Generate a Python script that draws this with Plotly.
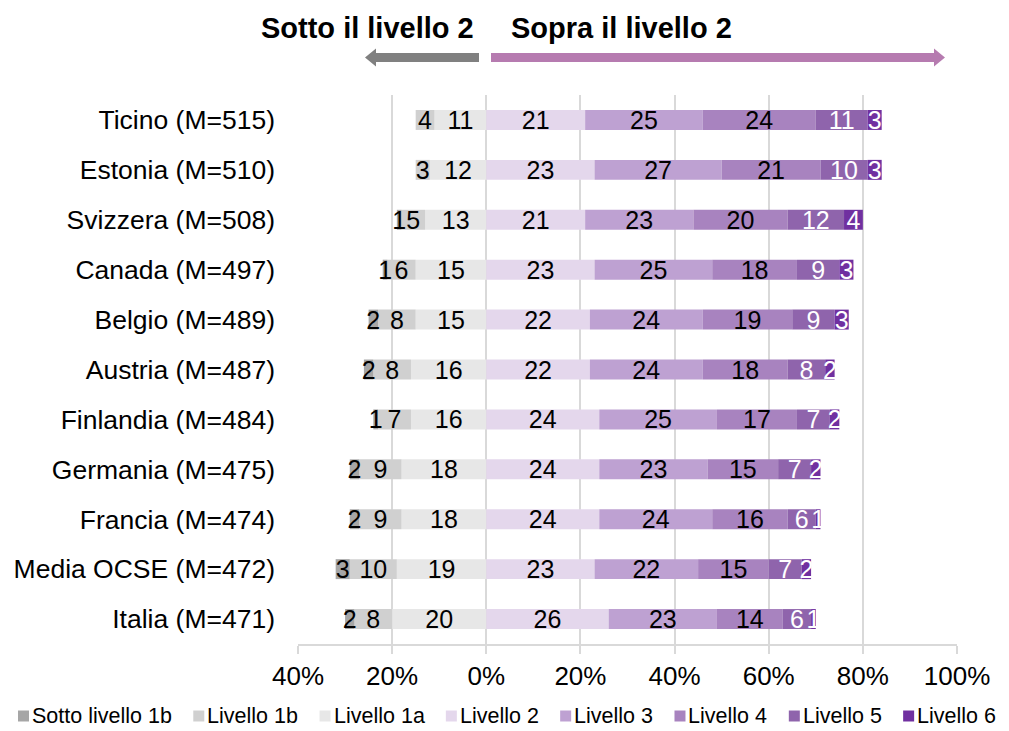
import plotly.graph_objects as go

categories = ["Ticino (M=515)", "Estonia (M=510)", "Svizzera (M=508)", "Canada (M=497)",
              "Belgio (M=489)", "Austria (M=487)", "Finlandia (M=484)", "Germania (M=475)",
              "Francia (M=474)", "Media OCSE (M=472)", "Italia (M=471)"]

sotto_1b = [0, 0, 1, 1, 2, 2, 1, 2, 2, 3, 2]
livello_1b = [4, 3, 5, 6, 8, 8, 7, 9, 9, 10, 8]
livello_1a = [11, 12, 13, 15, 15, 16, 16, 18, 18, 19, 20]
livello_2 = [21, 23, 21, 23, 22, 22, 24, 24, 24, 23, 26]
livello_3 = [25, 27, 23, 25, 24, 24, 25, 23, 24, 22, 23]
livello_4 = [24, 21, 20, 18, 19, 18, 17, 15, 16, 15, 14]
livello_5 = [11, 10, 12, 9, 9, 8, 7, 7, 6, 7, 6]
livello_6 = [3, 3, 4, 3, 3, 2, 2, 2, 1, 2, 1]

tick_vals = [-40, -20, 0, 20, 40, 60, 80, 100]
tick_text = ["40%", "20%", "0%", "20%", "40%", "60%", "80%", "100%"]

legend_names = ["Sotto livello 1b", "Livello 1b", "Livello 1a", "Livello 2",
                "Livello 3", "Livello 4", "Livello 5", "Livello 6"]

FONT = "Liberation Sans, Arial, sans-serif"

colors = {
    "Sotto livello 1b": "#a6a6a6", "Livello 1b": "#d0d0d0", "Livello 1a": "#e7e7e7",
    "Livello 2": "#e4d7ec", "Livello 3": "#bea1d2", "Livello 4": "#a883bf",
    "Livello 5": "#8f64ac", "Livello 6": "#7030a0",
}

# (name, values, sign, text color) -- negatives stack outward from zero in trace order
series = [
    ("Livello 1a", livello_1a, -1, "black"),
    ("Livello 1b", livello_1b, -1, "black"),
    ("Sotto livello 1b", sotto_1b, -1, "black"),
    ("Livello 2", livello_2, 1, "black"),
    ("Livello 3", livello_3, 1, "black"),
    ("Livello 4", livello_4, 1, "black"),
    ("Livello 5", livello_5, 1, "white"),
    ("Livello 6", livello_6, 1, "white"),
]

# The page body has an 8px default margin, so the figure is sized/placed to fit the window.
OFF = 8
W, H = 1009 - OFF, 731 - OFF
ML, MR = 298 - OFF, 52
MT = 95 - OFF
MB = H - (644 - OFF)
PW, PH = W - ML - MR, H - MT - MB

fig = go.Figure()
for name, vals, sign, tcol in series:
    fig.add_trace(go.Bar(
        y=categories,
        x=[sign * v for v in vals],
        name=name,
        orientation="h",
        marker=dict(color=colors[name], line=dict(width=0)),
        text=[str(v) if v > 0 else "" for v in vals],
        textposition="inside",
        insidetextanchor="middle",
        textangle=0,
        textfont=dict(color=tcol, size=25, family=FONT),
        hoverinfo="skip",
        showlegend=False,
    ))

fig.update_layout(
    barmode="relative",
    bargap=0.6,
    width=W, height=H,
    margin=dict(l=ML, r=MR, t=MT, b=MB, autoexpand=False),
    paper_bgcolor="white", plot_bgcolor="white",
    font=dict(family=FONT, size=26, color="black"),
    uniformtext=dict(minsize=25, mode="show"),
    showlegend=False,
    xaxis=dict(range=[-40, 100], tickvals=tick_vals, ticktext=tick_text,
               showgrid=True, gridcolor="#d9d9d9", gridwidth=2,
               zeroline=True, zerolinecolor="#d9d9d9", zerolinewidth=2,
               showline=True, linecolor="#d9d9d9", linewidth=2,
               ticks="outside", ticklen=8, tickcolor="#d9d9d9", tickwidth=2,
               tickfont=dict(size=26), fixedrange=True),
    yaxis=dict(autorange="reversed", showgrid=False, showline=False, ticks="",
               ticklabelstandoff=22, tickfont=dict(size=26.5), fixedrange=True),
)

# convert reference-window pixels to paper coordinates
def px_x(p):
    return (p - OFF - ML) / PW

def px_y(p):
    return (H - MB - (p - OFF)) / PH

# header texts
fig.add_annotation(text="<b>Sotto il livello 2</b>", xref="paper", yref="paper",
                   x=px_x(476), y=px_y(28), xanchor="right", yanchor="middle",
                   showarrow=False, font=dict(size=29, family=FONT, color="black"))
fig.add_annotation(text="<b>Sopra il livello 2</b>", xref="paper", yref="paper",
                   x=px_x(509), y=px_y(28), xanchor="left", yanchor="middle",
                   showarrow=False, font=dict(size=29, family=FONT, color="black"))

# arrows
def arrow(x_tail, x_tip, color):
    d = 1 if x_tip > x_tail else -1
    head = 11
    yc = 57.5
    xb = x_tip - d * head
    pts = [(x_tail, yc + 4.5), (xb, yc + 4.5), (xb, yc + 9), (x_tip, yc),
           (xb, yc - 9), (xb, yc - 4.5), (x_tail, yc - 4.5)]
    path = "M " + " L ".join(f"{px_x(a):.5f},{px_y(b):.5f}" for a, b in pts) + " Z"
    fig.add_shape(type="path", path=path, xref="paper", yref="paper",
                  fillcolor=color, line=dict(width=0), layer="above")

arrow(479, 365, "#808080")
arrow(491, 945, "#b67bb0")

# legend drawn as squares + text in one row spanning the width
EM = {"S": .667, "o": .556, "t": .278, " ": .278, "l": .222, "i": .222, "v": .5,
      "e": .556, "b": .556, "L": .556, "a": .556}
def text_w(s, size):
    return sum(EM.get(c, .556) for c in s) * size

LEG_SIZE = 21.5
SQ, SQGAP = 11, 3
x_start, x_end, y_leg = 18, 996, 716
widths = [text_w(n, LEG_SIZE) for n in legend_names]
gap = (x_end - x_start - sum(SQ + SQGAP + w for w in widths)) / (len(legend_names) - 1)
x = x_start
for name, w in zip(legend_names, widths):
    fig.add_shape(type="rect", xref="paper", yref="paper",
                  x0=px_x(x), x1=px_x(x + SQ), y0=px_y(y_leg + SQ / 2), y1=px_y(y_leg - SQ / 2),
                  fillcolor=colors[name], line=dict(width=0))
    fig.add_annotation(text=name, xref="paper", yref="paper",
                       x=px_x(x + SQ + SQGAP - 1), y=px_y(y_leg), xanchor="left", yanchor="middle",
                       showarrow=False, borderpad=0,
                       font=dict(size=LEG_SIZE, family=FONT, color="black"))
    x += SQ + SQGAP + w + gap

fig.write_html("out.html")
